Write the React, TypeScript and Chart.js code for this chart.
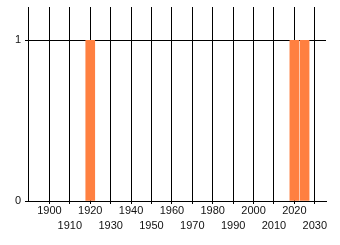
import React, { useEffect, useRef } from "react";
import { Chart, registerables } from "chart.js";

Chart.register(...registerables);

const years = [1920, 2020, 2025];
const counts = [1, 1, 1];
const xMin = 1889.5;
const xMax = 2035.5;
const firstTick = 1900;
const yMax = 1.207;

export default function App() {
  const ref = useRef<HTMLCanvasElement | null>(null);
  useEffect(() => {
    if (!ref.current) return;
    const chart = new Chart(ref.current, {
      type: "bar",
      data: {
        datasets: [
          {
            data: years.map((y, i) => ({ x: y, y: counts[i] })),
            backgroundColor: "#ff8040",
            borderWidth: 0,
            barThickness: 9,
          },
        ],
      },
      options: {
        animation: false,
        responsive: true,
        maintainAspectRatio: false,
        layout: { padding: { left: 0, right: 14, top: 7, bottom: 0 } },
        plugins: { legend: { display: false }, tooltip: { enabled: false } },
        scales: {
          x: {
            type: "linear",
            min: xMin,
            max: xMax,
            offset: false,
            grid: { color: "#000", lineWidth: 1, tickLength: 3, drawTicks: true, offset: false },
            border: { color: "#000", width: 1 },
            afterBuildTicks: (s: any) => {
              s.ticks = s.ticks.filter((t: any) => t.value % 10 === 0 && t.value >= firstTick);
            },
            ticks: {
              stepSize: 10,
              includeBounds: false,
              autoSkip: false,
              maxRotation: 0,
              minRotation: 0,
              padding: -1,
              color: "#111",
              font: { family: "'Liberation Sans', Arial, sans-serif", size: 11, lineHeight: 1.41 },
              callback: (v: any) => {
                const n = Math.round(Number(v));
                return (n / 10) % 2 === 0 ? String(n) : ["", String(n)];
              },
            },
            afterFit: (s: any) => {
              s.height = 44;
              s.paddingLeft = 0;
              s.paddingRight = 0;
            },
          },
          y: {
            type: "linear",
            min: 0,
            max: yMax,
            grid: { color: "#000", lineWidth: 1, tickLength: 3 },
            border: { color: "#000", width: 1 },
            afterBuildTicks: (s: any) => {
              s.ticks = s.ticks.filter((t: any) => Number.isInteger(t.value));
            },
            ticks: {
              stepSize: 1,
              padding: 4,
              color: "#111",
              font: { family: "'Liberation Sans', Arial, sans-serif", size: 11 },
            },
            afterFit: (s: any) => {
              s.width = 28;
              s.paddingTop = 0;
              s.paddingBottom = 0;
            },
          },
        },
      },
    });
    return () => chart.destroy();
  }, []);
  return (
    <div style={{ position: "fixed", left: 0, top: 0, width: 340, height: 245 }}>
      <canvas ref={ref} />
    </div>
  );
}
